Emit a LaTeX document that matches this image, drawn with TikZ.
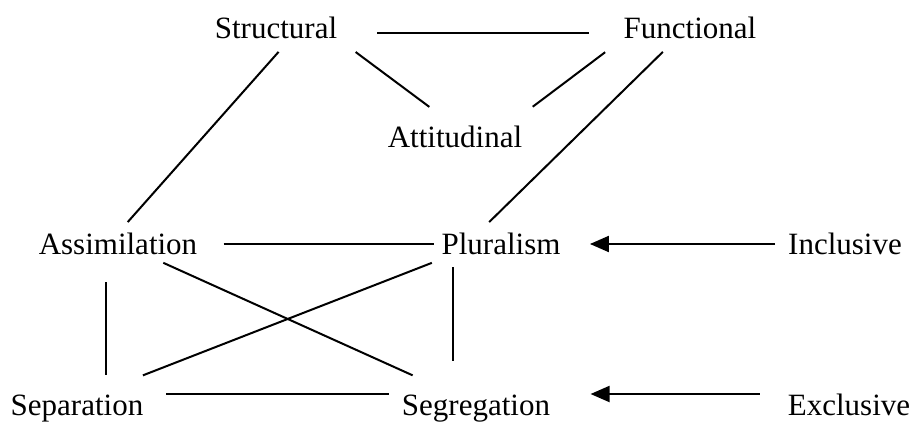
\documentclass[tikz,border=0pt]{standalone}
\usepackage{fontspec}
\setmainfont{Liberation Serif}
\usetikzlibrary{arrows.meta}

\begin{document}
\begin{tikzpicture}[x=0.5pt,y=-0.5pt,>={Triangle[length=9.5pt,width=8pt]},line width=1pt,
 lbl/.style={anchor=base,inner sep=0pt,text height=10pt,text depth=0pt,font=\fontsize{15.5pt}{18pt}\selectfont}]
\useasboundingbox (0,0) rectangle (913,423);
\foreach \n/\t/\x/\y in {struct/Structural/276/38,func/Functional/690/38,att/Attitudinal/455/147,
 assim/Assimilation/118/254,plur/Pluralism/501/254,incl/Inclusive/845/254,
 sep/Separation/77/415,seg/Segregation/476/415,excl/Exclusive/849/415}{\node[lbl] (\n) at (\x,\y) {\t};}
% top triangle
\draw[shorten <=19.5pt,shorten >=17pt] (struct.mid east) -- (func.mid west);
\draw[shorten <=10.9pt,shorten >=16pt] (struct.south east) -- (att.north);
\draw[shorten <=11pt,shorten >=16pt] (func.south west) -- ([xshift=-8pt]att.north east);
\draw[shorten <=8.6pt,shorten >=7.3pt] ([xshift=7pt]struct.south) -- (assim.north);
\draw[shorten <=9.2pt,shorten >=7.8pt] ([xshift=-7pt]func.south) -- ([xshift=-11.5pt]plur.north);
% bottom square
\draw[shorten <=12.75pt,shorten >=3.25pt] (assim.east) -- (plur.west);
\draw[shorten <=9.5pt,shorten >=22.7pt] ([xshift=14pt]assim.south) -- ([xshift=-11pt]seg.north);
\draw[shorten <=10.8pt,shorten >=25.7pt] ([xshift=-24.5pt]plur.south) -- ([xshift=9pt]sep.north);
\draw[shorten <=13.5pt,shorten >=9.5pt] ([xshift=-6pt]assim.south) -- ([xshift=14.5pt]sep.north);
\draw[shorten <=6pt,shorten >=16.5pt] ([xshift=-24pt]plur.south) -- ([xshift=-11.5pt]seg.north);
\draw[shorten <=11pt,shorten >=5.75pt] (sep.north east) -- (seg.north west);
% arrows
\draw[->,shorten <=6pt,shorten >=14.25pt] (incl.west) -- (plur.east);
\draw[->,shorten <=13.5pt,shorten >=19.75pt] (excl.north west) -- (seg.north east);
\end{tikzpicture}
\end{document}
